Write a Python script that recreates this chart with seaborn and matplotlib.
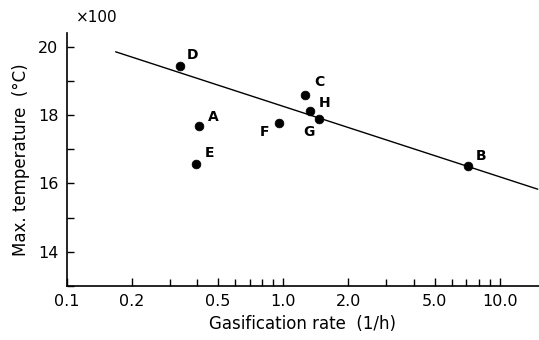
import matplotlib
matplotlib.use("Agg")
import matplotlib.pyplot as plt
import matplotlib.ticker as mticker
import seaborn as sns
import pandas as pd

labels = ["D", "A", "E", "F", "C", "H", "G", "B"]
rate = [0.332, 0.406, 0.397, 0.96, 1.26, 1.33, 1.47, 7.12]
temp = [19.43, 17.67, 16.57, 17.76, 18.60, 18.12, 17.88, 16.51]

line_x = [0.168, 15.0]
line_y = [19.85, 15.83]

xticks = [0.1, 0.2, 0.5, 1.0, 2.0, 5.0, 10.0]
xticklabels = ["0.1", "0.2", "0.5", "1.0", "2.0", "5.0", "10.0"]
yticks = [14, 16, 18, 20]

# label offsets (points) relative to each marker
offsets = {"D": (5, 3), "A": (7, 2), "E": (6, 3), "F": (-14, -11),
           "C": (7, 4), "H": (6, 1), "G": (-12, -14), "B": (6, 2)}

sns.set_style("white", {"xtick.bottom": True, "ytick.left": True,
                        "text.color": "black", "axes.labelcolor": "black",
                        "xtick.color": "black", "ytick.color": "black"})
plt.rcParams['font.family'] = ['DejaVu Sans']

df = pd.DataFrame({"rate": rate, "temp": temp, "label": labels})
ldf = pd.DataFrame({"x": line_x, "y": line_y})

fig = plt.figure(figsize=(5.39, 3.40), dpi=100)
ax = fig.add_axes([0.124, 0.159, 0.876, 0.744])

sns.lineplot(data=ldf, x="x", y="y", ax=ax, color="black", linewidth=1.0)
sns.scatterplot(data=df, x="rate", y="temp", ax=ax, color="black", s=40,
                edgecolor="black", zorder=3)

for lab, xv, yv in zip(labels, rate, temp):
    dx, dy = offsets[lab]
    ax.annotate(lab, (xv, yv), xytext=(dx, dy), textcoords="offset points",
                fontsize=10, fontweight="bold", ha="left", va="bottom",
                color="black")

ax.set_xscale("log")
ax.set_xlim(0.1, 15.2)
ax.set_ylim(13.0, 20.4)
ax.set_xticks(xticks)
ax.set_xticklabels(xticklabels)
ax.xaxis.set_minor_locator(mticker.LogLocator(base=10, subs=range(2, 10)))
ax.xaxis.set_minor_formatter(mticker.NullFormatter())
ax.set_yticks(yticks)
ax.yaxis.set_minor_locator(mticker.MultipleLocator(1))

ax.tick_params(axis="both", which="both", direction="in", length=5,
               width=1, color="black", labelcolor="black", labelsize=11.5,
               pad=6, bottom=True, left=True, top=False, right=False)
ax.tick_params(axis="x", which="major", length=6)

for s in ["top", "right"]:
    ax.spines[s].set_visible(False)
for s in ["left", "bottom"]:
    ax.spines[s].set_color("black")
    ax.spines[s].set_linewidth(1.2)

ax.set_xlabel("Gasification rate  (1/h)", fontsize=12, labelpad=4, color="black")
ax.set_ylabel("Max. temperature  (°C)", fontsize=12, labelpad=6, color="black")
ax.text(0.02, 1.03, "×100", transform=ax.transAxes, fontsize=11,
        ha="left", va="bottom", color="black")

fig.savefig("out.png", dpi=100)
